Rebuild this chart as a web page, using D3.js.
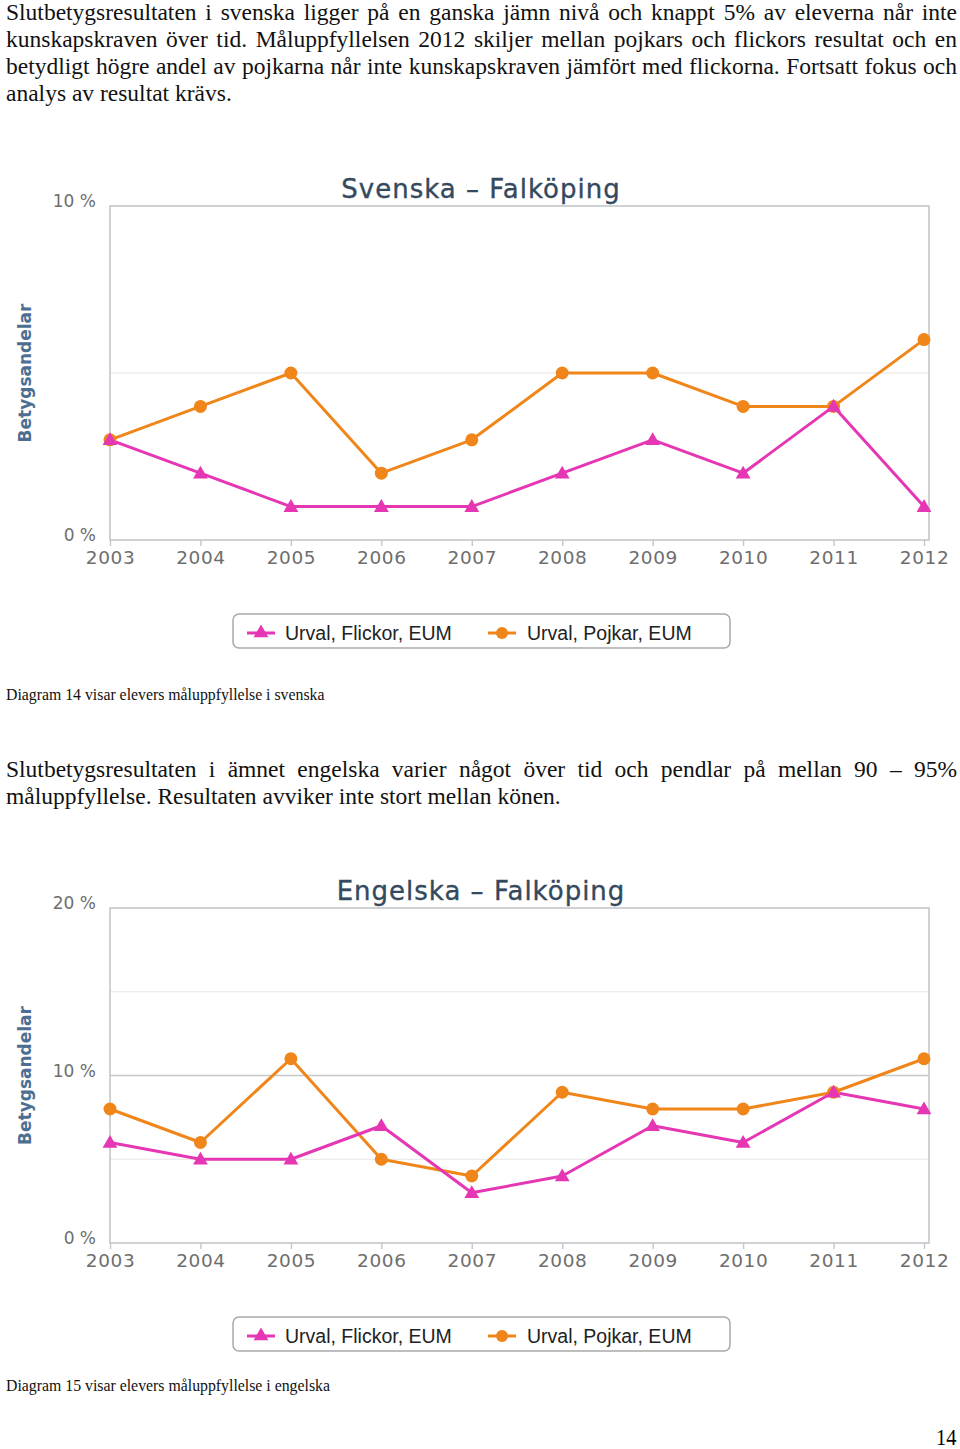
<!DOCTYPE html>
<html>
<head>
<meta charset="utf-8">
<script src="https://d3js.org/d3.v7.min.js"></script>
<style>
  html, body { margin: 0; padding: 0; background: #fff; }
  body { width: 960px; height: 1449px; position: relative; overflow: hidden; }
  .para { position: absolute; left: 6px; width: 951px; font-family: "Liberation Serif", "Times New Roman", serif; font-size: 23.5px; line-height: 27px; color: #111; }
  .para .ln { text-align: justify; text-align-last: justify; white-space: nowrap; }
  .para .ln.last { text-align-last: left; }
  .cap { position: absolute; left: 6px; font-family: "Liberation Serif", "Times New Roman", serif; font-size: 15.8px; line-height: 18px; color: #111; white-space: nowrap; transform-origin: left center; }
  svg { position: absolute; left: 0; top: 0; }
</style>
</head>
<body>
<script>
// ---------- data ----------
const years = [2003, 2004, 2005, 2006, 2007, 2008, 2009, 2010, 2011, 2012];
const seriesNames = ["Urval, Flickor, EUM", "Urval, Pojkar, EUM"];

const svenskaFlickor = [3, 2, 1, 1, 1, 2, 3, 2, 4, 1];
const svenskaPojkar  = [3, 4, 5, 2, 3, 5, 5, 4, 4, 6];
const svenskaTicks = [0, 10];
const svenskaGrid = [5];

const engelskaFlickor = [6, 5, 5, 7, 3, 4, 7, 6, 9, 8];
const engelskaPojkar  = [8, 6, 11, 5, 4, 9, 8, 8, 9, 11];
const engelskaTicks = [0, 10, 20];
const engelskaGrid = [5, 15];

const para1 = [
  "Slutbetygsresultaten i svenska ligger på en ganska jämn nivå och knappt 5% av eleverna når inte",
  "kunskapskraven över tid. Måluppfyllelsen 2012 skiljer mellan pojkars och flickors resultat och en",
  "betydligt högre andel av pojkarna når inte kunskapskraven jämfört med flickorna. Fortsatt fokus och",
  "analys av resultat krävs."
];
const para2 = [
  "Slutbetygsresultaten i ämnet engelska varier något över tid och pendlar på mellan 90 – 95%",
  "måluppfyllelse. Resultaten avviker inte stort mellan könen."
];
const caption1 = "Diagram 14 visar elevers måluppfyllelse i svenska";
const caption2 = "Diagram 15 visar elevers måluppfyllelse i engelska";
const pageNumber = "14";

// ---------- styles ----------
const COL_F = "#e536b4";
const COL_P = "#f0861a";
const FRAME = "#c3c6cb";
const chartFont = "'DejaVu Sans', Verdana, sans-serif";

// ---------- text ----------
function para(lines, top) {
  const d = d3.select("body").append("div").attr("class", "para").style("top", top + "px");
  d.selectAll("div").data(lines).join("div")
    .attr("class", (t, i) => "ln" + (i === lines.length - 1 ? " last" : ""))
    .text(t => t);
}
para(para1, -1);
para(para2, 756);
d3.select("body").append("div").attr("class", "cap").style("top", "686px").text(caption1);
d3.select("body").append("div").attr("class", "cap")
  .style("top", "1377px").style("font-size", "17px")
  .style("transform", "scaleX(0.93)").text(caption2);
d3.select("body").append("div")
  .style("position", "absolute").style("left", "936px").style("top", "1424px")
  .style("font-family", "'Liberation Serif', serif").style("font-size", "24px")
  .style("transform", "scaleX(0.85)").style("transform-origin", "left center")
  .text(pageNumber);

// ---------- charts ----------
const svg = d3.select("body").insert("svg", ":first-child")
  .attr("width", 960).attr("height", 1449);

function drawChart(cfg) {
  const g = svg.append("g");
  const x = d3.scaleLinear().domain([years[0], years[years.length - 1]]).range([110, 924]);
  const y = d3.scaleLinear().domain([0, cfg.max]).range([cfg.bottom, cfg.top]);
  const L = 110, R = 929;

  // gridlines (minor)
  g.selectAll(".grid").data(cfg.grid).join("line")
    .attr("x1", L).attr("x2", R).attr("y1", d => y(d)).attr("y2", d => y(d))
    .attr("stroke", "#e6e6e6").attr("stroke-width", 1.2);
  // gridlines for labeled ticks
  g.selectAll(".gridT").data(cfg.ticks.filter(t => t !== 0 && t !== cfg.max)).join("line")
    .attr("x1", L).attr("x2", R).attr("y1", d => y(d)).attr("y2", d => y(d))
    .attr("stroke", "#c8c8c8").attr("stroke-width", 1.5);

  // frame
  g.append("rect").attr("x", L).attr("y", cfg.top).attr("width", R - L).attr("height", cfg.bottom - cfg.top)
    .attr("fill", "none").attr("stroke", FRAME).attr("stroke-width", 1.6);

  // x axis ticks + labels
  const xa = g.append("g").attr("transform", `translate(0,${cfg.bottom})`)
    .call(d3.axisBottom(x).tickValues(years).tickFormat(d3.format("d")).tickSize(6).tickPadding(4));
  xa.select(".domain").remove();
  xa.selectAll(".tick line").attr("stroke", FRAME).attr("stroke-width", 1.4);
  xa.selectAll(".tick text").attr("fill", "#6e6e6e").attr("font-family", chartFont)
    .attr("font-size", 18.5).attr("letter-spacing", 0.6).attr("dy", "0.71em")
    .attr("y", 11);

  // y labels
  const ya = g.append("g").attr("transform", `translate(${L},0)`)
    .call(d3.axisLeft(y).tickValues(cfg.ticks).tickFormat(d => d + " %").tickSize(0).tickPadding(14));
  ya.select(".domain").remove();
  ya.selectAll(".tick text").attr("fill", "#6e6e6e").attr("font-family", chartFont)
    .attr("font-size", 17).attr("dy", "0.05em");

  // y title
  g.append("text").attr("transform", `translate(31,${(cfg.top + cfg.bottom) / 2}) rotate(-90)`)
    .attr("text-anchor", "middle").attr("font-family", chartFont).attr("font-weight", "bold")
    .attr("font-size", 17).attr("fill", "#4d6e93").text("Betygsandelar");

  // title
  g.append("text").attr("x", 481).attr("y", cfg.top - 8).attr("text-anchor", "middle")
    .attr("font-family", chartFont).attr("font-size", 26).attr("letter-spacing", 1)
    .attr("fill", "#34495e").attr("stroke", "#34495e").attr("stroke-width", 0.35)
    .text(cfg.title);

  const line = d3.line().x((d, i) => x(years[i])).y(d => y(d));
  const tri = d3.symbol().type(d3.symbolTriangle).size(95);

  // Pojkar
  g.append("path").datum(cfg.pojkar).attr("d", line).attr("fill", "none")
    .attr("stroke", COL_P).attr("stroke-width", 3).attr("stroke-linejoin", "round");
  // Flickor
  g.append("path").datum(cfg.flickor).attr("d", line).attr("fill", "none")
    .attr("stroke", COL_F).attr("stroke-width", 3).attr("stroke-linejoin", "round");

  g.selectAll(".pm").data(cfg.pojkar).join("circle")
    .attr("cx", (d, i) => x(years[i])).attr("cy", d => y(d)).attr("r", 6.5).attr("fill", COL_P);
  g.selectAll(".fm").data(cfg.flickor).join("path")
    .attr("d", tri).attr("transform", (d, i) => `translate(${x(years[i])},${y(d) + 1})`).attr("fill", COL_F);

  // legend
  const ly = cfg.legendTop;
  const lg = g.append("g");
  lg.append("rect").attr("x", 233).attr("y", ly).attr("width", 497).attr("height", 34).attr("rx", 6)
    .attr("fill", "#fff").attr("stroke", "#a9a9a9").attr("stroke-width", 1.5);
  const items = [
    { name: seriesNames[0], col: COL_F, x0: 247, tx: 285, sym: "tri" },
    { name: seriesNames[1], col: COL_P, x0: 488, tx: 527, sym: "circ" }
  ];
  const cy = ly + 19;
  items.forEach(it => {
    lg.append("line").attr("x1", it.x0).attr("x2", it.x0 + 28).attr("y1", cy).attr("y2", cy)
      .attr("stroke", it.col).attr("stroke-width", 3);
    if (it.sym === "tri") {
      lg.append("path").attr("d", tri).attr("transform", `translate(${it.x0 + 14},${cy})`).attr("fill", it.col);
    } else {
      lg.append("circle").attr("cx", it.x0 + 14).attr("cy", cy).attr("r", 6).attr("fill", it.col);
    }
    lg.append("text").attr("x", it.tx).attr("y", cy + 7).attr("font-family", "'Liberation Sans', Arial, sans-serif")
      .attr("font-size", 19.5).attr("fill", "#222").text(it.name);
  });
}

drawChart({ title: "Svenska – Falköping", max: 10, top: 206, bottom: 540,
  ticks: svenskaTicks, grid: svenskaGrid, flickor: svenskaFlickor, pojkar: svenskaPojkar, legendTop: 614 });
drawChart({ title: "Engelska – Falköping", max: 20, top: 908, bottom: 1243,
  ticks: engelskaTicks, grid: engelskaGrid, flickor: engelskaFlickor, pojkar: engelskaPojkar, legendTop: 1317 });
</script>
</body>
</html>
